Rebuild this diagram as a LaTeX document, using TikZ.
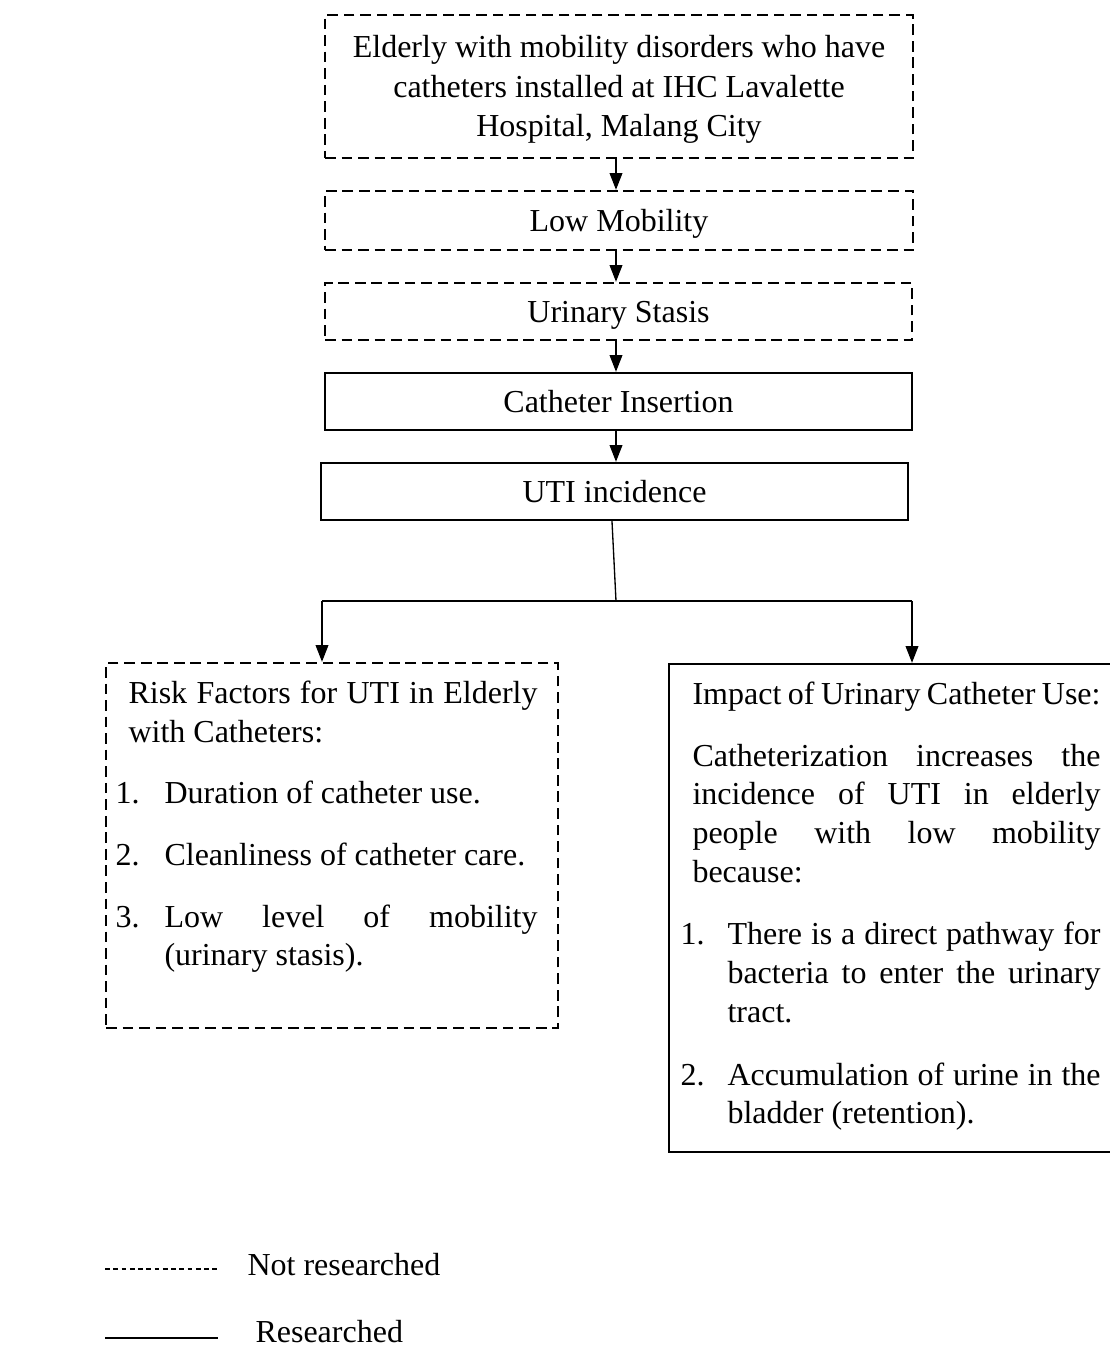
\documentclass[tikz,border=0pt]{standalone}
\usepackage{fontspec}
\setmainfont{Liberation Serif}
\usetikzlibrary{arrows.meta}
\tikzset{
  dbox/.style={draw, line width=0.9pt, dash pattern=on 4pt off 2.2pt, inner sep=0pt},
  sbox/.style={draw, line width=0.9pt, inner sep=0pt},
  oneline/.style={text height=9pt, text depth=0.8pt},
  conn/.style={line width=0.5pt},
  arr/.style={conn, -{Triangle[width=4.8pt,length=6.3pt]}},
  legdash/.style={line width=0.4pt, dash pattern=on 1.8pt off 1.3pt},
  txt/.style={anchor=base west, inner sep=0pt},
  ctxt/.style={anchor=base, inner sep=0pt}
}
\begin{document}
\begin{tikzpicture}[x=0.375pt,y=-0.375pt,font=\fontsize{12}{15}\selectfont]
\fill[white] (0,0) rectangle (1110,1349);
\useasboundingbox (0,0) rectangle (1110,1349);

% boxes
\node[dbox, minimum width=220.5pt, minimum height=53.625pt] (b1) at (619,86.5) {};
\node[ctxt] (b1l1) at (619,57) {Elderly with mobility disorders who have};
\node[ctxt] (b1l2) at (619,97) {catheters installed at IHC Lavalette};
\node[ctxt] (b1l3) at (619,136) {Hospital, Malang City};

\node[dbox, oneline, minimum width=220.5pt, minimum height=22.125pt] (b2) at (619,220.5) {Low Mobility};
\node[dbox, oneline, minimum width=220.125pt, minimum height=21.375pt] (b3) at (618.5,311.5) {Urinary Stasis};
\node[sbox, oneline, minimum width=220.125pt, minimum height=21.375pt] (b4) at (618.5,401.5) {Catheter Insertion};
\node[sbox, oneline, minimum width=220.125pt, minimum height=21.375pt] (b5) at (614.5,491.5) {UTI incidence};

\node[dbox, minimum width=169.5pt, minimum height=136.875pt] (risk) at (332,845.5) {};
\node[sbox, minimum width=166.5pt, minimum height=183pt] (impact) at (891,908) {};

% connectors
\coordinate (sp) at (616,0);
\draw[arr] (b1.south -| sp) -- (b2.north -| sp);
\draw[arr] (b2.south -| sp) -- (b3.north -| sp);
\draw[arr] (b3.south -| sp) -- (b4.north -| sp);
\draw[arr] (b4.south -| sp) -- (b5.north -| sp);
\coordinate (b5s) at (612,0);
\coordinate (j) at (616,601);
\coordinate (jl) at (322,601);
\coordinate (jr) at (912,601);
\draw[conn] (b5.south -| b5s) -- (j);
\draw[conn] (jl) -- (jr);
\draw[arr] (jl) -- (jl |- risk.north);
\draw[arr] (jr) -- (jr |- impact.north);

% risk box text
\node[txt] (r1) at (128,703) {\hbox to 153.4pt{Risk Factors for UTI in Elderly}};
\node[txt] (r2) at (128,742) {with Catheters:};
\node[txt] (r3n) at (115,803) {1.};
\node[txt] (r3) at (164,803) {Duration of catheter use.};
\node[txt] (r4n) at (115,865) {2.};
\node[txt] (r4) at (164,865) {Cleanliness of catheter care.};
\node[txt] (r5n) at (115,927) {3.};
\node[txt] (r5) at (164,927) {\hbox to 139.9pt{Low level of mobility}};
\node[txt] (r6) at (164,965) {(urinary stasis).};

% impact box text
\node[txt] (i1) at (692,704) {\hbox to 153pt{Impact of Urinary Catheter Use:}};
\node[txt] (i2) at (692,766) {\hbox to 153pt{Catheterization increases the}};
\node[txt] (i3) at (692,804) {\hbox to 153pt{incidence of UTI in elderly}};
\node[txt] (i4) at (692,843) {\hbox to 153pt{people with low mobility}};
\node[txt] (i5) at (692,882) {because:};
\node[txt] (i6n) at (680,944) {1.};
\node[txt] (i6) at (727,944) {\hbox to 139.9pt{There is a direct pathway for}};
\node[txt] (i7) at (727,983) {\hbox to 139.9pt{bacteria to enter the urinary}};
\node[txt] (i8) at (727,1022) {tract.};
\node[txt] (i9n) at (680,1085) {2.};
\node[txt] (i9) at (727,1085) {\hbox to 139.9pt{Accumulation of urine in the}};
\node[txt] (i10) at (727,1123) {bladder (retention).};

% legend
\coordinate (ld1) at (105,1269);
\coordinate (ld2) at (220,1269);
\draw[legdash] (ld1) -- (ld2);
\node[txt] (lt1) at (247,1275) {Not researched};
\coordinate (ls1) at (105,1338);
\coordinate (ls2) at (218,1338);
\draw[conn] (ls1) -- (ls2);
\node[txt] (lt2) at (255,1342) {Researched};
\end{tikzpicture}
\end{document}
